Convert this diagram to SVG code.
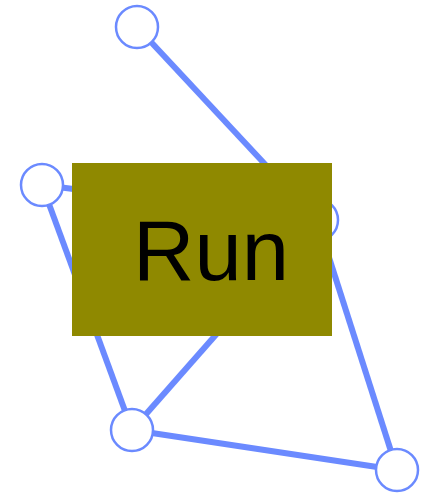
<svg xmlns="http://www.w3.org/2000/svg" width="423" height="495" viewBox="0 0 423 495">
<style>
.edge{stroke:#6b8aff;stroke-width:6;fill:none}
.node{fill:#fff;stroke:#6b8aff;stroke-width:2.5}
.label{font-family:"Liberation Sans",Arial,sans-serif;font-size:85px;fill:#000}
</style>
<rect width="423" height="495" fill="#fff"/>
<g id="edges">
<line class="edge" x1="137" y1="27" x2="317" y2="220"/>
<line class="edge" x1="42" y1="185" x2="317" y2="220"/>
<line class="edge" x1="42" y1="185" x2="132" y2="430"/>
<line class="edge" x1="132" y1="430" x2="317" y2="220"/>
<line class="edge" x1="317" y1="220" x2="397" y2="470"/>
<line class="edge" x1="132" y1="430" x2="397" y2="470"/>
</g>
<g id="n1"><circle class="node" cx="137" cy="27" r="21"/></g>
<g id="n2"><circle class="node" cx="42" cy="185" r="21"/></g>
<g id="n3"><circle class="node" cx="317" cy="220" r="21"/></g>
<g id="n4"><circle class="node" cx="132" cy="430" r="21"/></g>
<g id="n5"><circle class="node" cx="397" cy="470" r="21"/></g>
<g id="run">
<rect x="72" y="163" width="260" height="173" fill="#8f8900"/>
<text class="label" x="211" y="279.5" text-anchor="middle">Run</text>
</g>
</svg>
